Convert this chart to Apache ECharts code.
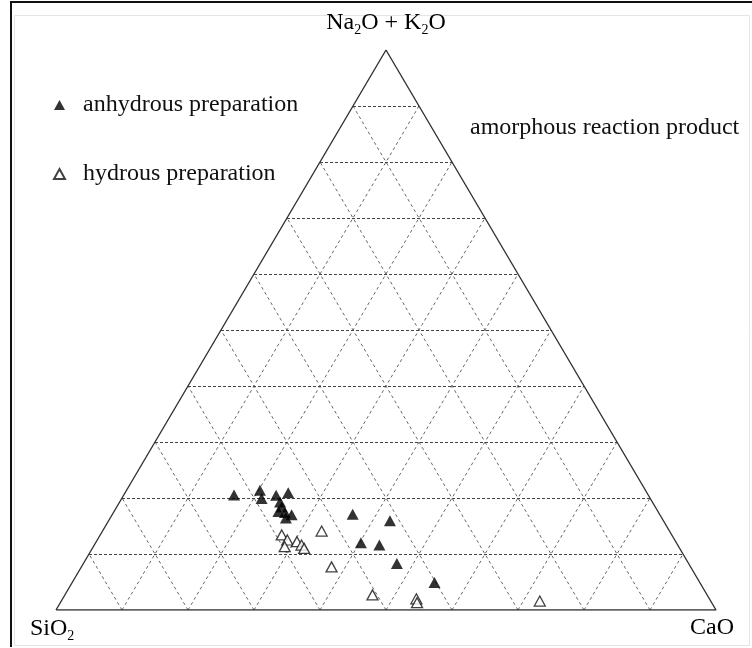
<!DOCTYPE html>
<html><head><meta charset="utf-8">
<script src="https://cdn.jsdelivr.net/npm/echarts@6/dist/echarts.min.js"></script>
<style>html,body{margin:0;padding:0;background:#fff}#c{width:752px;height:648px}</style>
</head><body><div id="c"></div>
<script>
// Ternary diagram: [SiO2, CaO, Na2O+K2O] (%)
const gridTicks = [10, 20, 30, 40, 50, 60, 70, 80, 90];
const seriesNames = ['anhydrous preparation', 'hydrous preparation'];
const regionLabel = 'amorphous reaction product';
const anhydrous = [
  [62.7, 16.7, 20.5], [58.4, 20.2, 21.4], [58.9, 21.2, 19.9], [56.4, 23.1, 20.5],
  [54.3, 24.7, 20.9], [56.4, 24.3, 19.3], [56.6, 25.0, 18.4], [57.5, 24.9, 17.6],
  [56.6, 26.0, 17.4], [55.8, 27.2, 17.0], [56.9, 26.6, 16.4], [46.5, 36.4, 17.1],
  [41.4, 42.6, 15.9], [47.8, 40.2, 12.0], [45.2, 43.2, 11.6], [44.2, 47.5, 8.3],
  [40.2, 54.9, 4.9]
];
const hydrous = [
  [59.1, 27.5, 13.4], [58.7, 28.8, 12.5], [59.7, 29.0, 11.3], [57.4, 30.4, 12.2],
  [57.0, 31.4, 11.6], [56.9, 32.1, 11.0], [52.7, 33.2, 14.1], [54.4, 37.9, 7.7],
  [50.7, 46.6, 2.7], [44.4, 53.6, 2.0], [44.6, 54.0, 1.3], [25.9, 72.5, 1.6]
];

function toXY(p) {
  const sum = p[0] + p[1] + p[2];
  const c = p[1] / sum, t = p[2] / sum;
  return [c + t / 2, t];
}
function ternToXY(s, c, t) { return toXY([s, c, t]); }

const hSegs = [], dSegs = [];
gridTicks.forEach(k => {
  // constant Na2O+K2O
  hSegs.push({coords: [ternToXY(100 - k, 0, k), ternToXY(0, 100 - k, k)]});
  // constant CaO
  dSegs.push({coords: [ternToXY(100 - k, k, 0), ternToXY(0, k, 100 - k)]});
  // constant SiO2
  dSegs.push({coords: [ternToXY(k, 100 - k, 0), ternToXY(k, 0, 100 - k)]});
});
const border = [ternToXY(100, 0, 0), ternToXY(0, 100, 0), ternToXY(0, 0, 100), ternToXY(100, 0, 0)];

const FONT = 'Liberation Serif';
const rich = {
  n: {fontFamily: FONT, fontSize: 24, color: '#111', lineHeight: 26, verticalAlign: 'top', padding: [0, 0, 7, 0]},
  s: {fontFamily: FONT, fontSize: 14, color: '#111', lineHeight: 14, verticalAlign: 'bottom'}
};

const chart = echarts.init(document.getElementById('c'), null, {renderer: 'canvas'});
chart.setOption({
  animation: false,
  backgroundColor: '#fff',
  grid: {left: 56, top: 50, width: 660, height: 560},
  xAxis: {type: 'value', min: 0, max: 1, show: false},
  yAxis: {type: 'value', min: 0, max: 1, show: false},
  legend: {
    orient: 'vertical', left: 48, top: 87, itemGap: 43,
    itemWidth: 11, itemHeight: 10, icon: 'triangle',
    data: seriesNames,
    textStyle: {fontFamily: FONT, fontSize: 24, color: '#111', lineHeight: 26, padding: [0, 0, 0, 13]}
  },
  series: [
    {type: 'lines', coordinateSystem: 'cartesian2d', silent: true, z: 1,
     lineStyle: {color: '#666', width: 1, type: [3, 3], opacity: 1},
     data: dSegs},
    {type: 'lines', coordinateSystem: 'cartesian2d', silent: true, z: 1,
     lineStyle: {color: '#444', width: 1, type: [3, 2], opacity: 1},
     data: hSegs},
    {type: 'line', silent: true, z: 2, symbol: 'none', data: border,
     lineStyle: {color: '#333', width: 1.4}},
    {name: seriesNames[0], type: 'scatter', z: 4, symbol: 'triangle', symbolSize: [12, 11],
     itemStyle: {color: '#000'}, data: anhydrous.map(toXY)},
    {name: seriesNames[1], type: 'scatter', z: 3, symbol: 'triangle', symbolSize: [11, 10],
     itemStyle: {color: '#fff', borderColor: '#111', borderWidth: 1.3}, data: hydrous.map(toXY)}
  ],
  graphic: [
    {type: 'line', shape: {x1: 11, y1: 1, x2: 11, y2: 647}, style: {stroke: '#111', lineWidth: 2}},
    {type: 'line', shape: {x1: 10, y1: 2, x2: 752, y2: 2}, style: {stroke: '#111', lineWidth: 2}},
    {type: 'rect', shape: {x: 14.5, y: 15.5, width: 735, height: 630}, style: {fill: null, stroke: '#e4e4e4', lineWidth: 1}},
    {type: 'text', x: 386, y: 11, style: {text: '{n|Na}{s|2}{n|O + K}{s|2}{n|O}', rich: rich, align: 'center', verticalAlign: 'top'}},
    {type: 'text', x: 30, y: 617, style: {text: '{n|SiO}{s|2}', rich: rich, align: 'left', verticalAlign: 'top'}},
    {type: 'text', x: 734, y: 616, style: {text: '{n|CaO}', rich: rich, align: 'right', verticalAlign: 'top'}},
    {type: 'text', x: 470, y: 128, style: {text: regionLabel, fontFamily: FONT, fontSize: 24, fill: '#111', align: 'left', verticalAlign: 'middle'}}
  ]
});
</script>
</body></html>
